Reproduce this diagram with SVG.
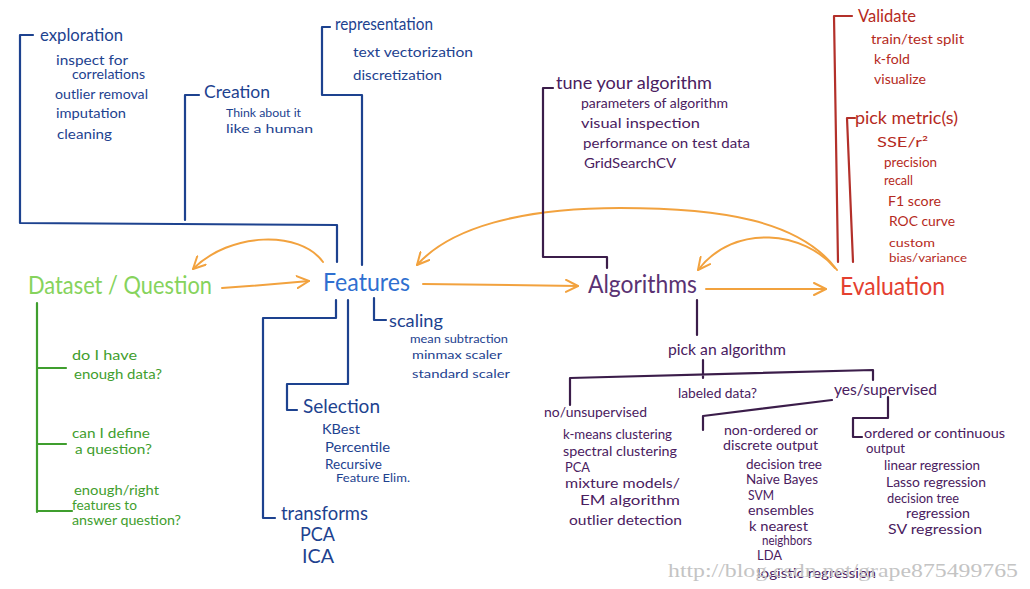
<svg xmlns="http://www.w3.org/2000/svg" width="1030" height="589" viewBox="0 0 1030 589">
<defs>
<marker id="ah" viewBox="0 0 14 14" refX="13" refY="7" markerWidth="14" markerHeight="14" markerUnits="userSpaceOnUse" orient="auto">
<path d="M1,1 L13,7 L1,13" fill="none" stroke="#f2a23e" stroke-width="2" stroke-linecap="round" stroke-linejoin="round"/>
</marker>
</defs>
<style>
text{font-family:"Lato","Noto Sans","Liberation Sans",sans-serif;}
.ln{fill:none;stroke-width:2.2;stroke-linecap:round;stroke-linejoin:round;}
.bl{stroke:#1d428f;}
.gr{stroke:#3f9e2e;}
.pu{stroke:#3b1d4a;}
.rd{stroke:#b3302a;}
.or{fill:none;stroke:#f2a23e;stroke-width:2;stroke-linecap:round;}
.tb{fill:#1d428f;}
.tg{fill:#3f9e2e;}
.tp{fill:#4a2060;}
.tr{fill:#b52a22;}
.big{font-size:25px;}
.h{font-size:17px;}
.s{font-size:13px;}
.xs{font-size:11px;}
</style>
<rect width="1030" height="589" fill="#ffffff"/>

<g id="connectors">
<path class="or" d="M222,288 Q265,285 309,281" marker-end="url(#ah)"/>
<path class="or" d="M423,284 L578,286" marker-end="url(#ah)"/>
<path class="or" d="M706,289 L826,289" marker-end="url(#ah)"/>
<path class="or" d="M323,262 C300,230 230,232 193,269" marker-end="url(#ah)"/>
<path class="or" d="M837,270 C800,220 720,208 620,208 C520,208 450,228 417,265" marker-end="url(#ah)"/>
<path class="or" d="M835,268 C805,232 735,222 698,270" marker-end="url(#ah)"/>
</g>

<g id="dataset">
<text x="28" y="294" class="big" fill="#86d35c" textLength="184" lengthAdjust="spacingAndGlyphs">Dataset / Question</text>
<path class="ln gr" d="M37,303 L37,512 M37,368 L66,368 M37,444 L66,444 M37,511 L72,511"/>
<text class="s tg" x="72" y="360" textLength="65" lengthAdjust="spacingAndGlyphs">do I have</text>
<text class="s tg" x="74" y="379" textLength="88" lengthAdjust="spacingAndGlyphs">enough data?</text>
<text class="s tg" x="72" y="438" textLength="78" lengthAdjust="spacingAndGlyphs">can I define</text>
<text class="s tg" x="75" y="454" textLength="77" lengthAdjust="spacingAndGlyphs">a question?</text>
<text class="s tg" x="74" y="495" textLength="85" lengthAdjust="spacingAndGlyphs">enough/right</text>
<text class="s tg" x="72" y="510" textLength="65" lengthAdjust="spacingAndGlyphs">features to</text>
<text class="s tg" x="72" y="525" textLength="109" lengthAdjust="spacingAndGlyphs">answer question?</text>
</g>

<g id="features">
<text x="323" y="291" class="big" fill="#2f6fd0" textLength="87" lengthAdjust="spacingAndGlyphs">Features</text>
<path class="ln bl" d="M33,35 L20,35 L20,223 L337,225 L337,262 M185,220 L185,95 L199,95 M330,27 L322,27 L322,95 L362,95 L362,265"/>
<text class="h tb" x="40" y="41" textLength="83" lengthAdjust="spacingAndGlyphs">exploration</text>
<text class="s tb" x="56" y="65" textLength="72" lengthAdjust="spacingAndGlyphs">inspect for</text>
<text class="s tb" x="72" y="79" textLength="73" lengthAdjust="spacingAndGlyphs">correlations</text>
<text class="s tb" x="55" y="99" textLength="93" lengthAdjust="spacingAndGlyphs">outlier removal</text>
<text class="s tb" x="56" y="118" textLength="70" lengthAdjust="spacingAndGlyphs">imputation</text>
<text class="s tb" x="57" y="139" textLength="55" lengthAdjust="spacingAndGlyphs">cleaning</text>
<text class="h tb" x="204" y="98" textLength="66" lengthAdjust="spacingAndGlyphs">Creation</text>
<text class="xs tb" x="226" y="117" textLength="75" lengthAdjust="spacingAndGlyphs">Think about it</text>
<text class="xs tb" x="226" y="133" textLength="87" lengthAdjust="spacingAndGlyphs">like a human</text>
<text class="h tb" x="335" y="30" textLength="98" lengthAdjust="spacingAndGlyphs">representation</text>
<text class="s tb" x="353" y="57" textLength="120" lengthAdjust="spacingAndGlyphs">text vectorization</text>
<text class="s tb" x="353" y="80" textLength="89" lengthAdjust="spacingAndGlyphs">discretization</text>
<path class="ln bl" d="M336,300 L336,318 L263,318 L263,518 L275,518 M348,300 L348,384 L287,384 L287,410 L297,410 M374,298 L374,320 L386,320"/>
<text class="h tb" x="389" y="327" textLength="54" lengthAdjust="spacingAndGlyphs">scaling</text>
<text class="xs tb" x="410" y="343" textLength="98" lengthAdjust="spacingAndGlyphs">mean subtraction</text>
<text class="xs tb" x="412" y="359" textLength="90" lengthAdjust="spacingAndGlyphs">minmax scaler</text>
<text class="xs tb" x="412" y="378" textLength="98" lengthAdjust="spacingAndGlyphs">standard scaler</text>
<text x="303" y="413" font-size="19" class="tb" textLength="77" lengthAdjust="spacingAndGlyphs">Selection</text>
<text class="s tb" x="322" y="434" textLength="38" lengthAdjust="spacingAndGlyphs">KBest</text>
<text class="s tb" x="325" y="452" textLength="65" lengthAdjust="spacingAndGlyphs">Percentile</text>
<text class="s tb" x="325" y="469" textLength="57" lengthAdjust="spacingAndGlyphs">Recursive</text>
<text class="xs tb" x="336" y="482" textLength="74" lengthAdjust="spacingAndGlyphs">Feature Elim.</text>
<text x="281" y="520" font-size="19" class="tb" textLength="87" lengthAdjust="spacingAndGlyphs">transforms</text>
<text x="300" y="541" font-size="19" class="tb" textLength="35" lengthAdjust="spacingAndGlyphs">PCA</text>
<text x="302" y="563" font-size="19" class="tb" textLength="32" lengthAdjust="spacingAndGlyphs">ICA</text>
</g>

<g id="algorithms">
<text x="588" y="293" class="big" fill="#5a3272" textLength="109" lengthAdjust="spacingAndGlyphs">Algorithms</text>
<path class="ln pu" d="M553,88 L543,88 L543,257 L607,257 L607,268"/>
<text class="h tp" x="556" y="89" textLength="156" lengthAdjust="spacingAndGlyphs">tune your algorithm</text>
<text class="s tp" x="581" y="108" textLength="147" lengthAdjust="spacingAndGlyphs">parameters of algorithm</text>
<text class="s tp" x="581" y="128" textLength="119" lengthAdjust="spacingAndGlyphs">visual inspection</text>
<text class="s tp" x="583" y="148" textLength="167" lengthAdjust="spacingAndGlyphs">performance on test data</text>
<text class="s tp" x="584" y="168" textLength="92" lengthAdjust="spacingAndGlyphs">GridSearchCV</text>
<path class="ln pu" d="M697,300 L697,335 M703,360 L703,378 M570,405 L570,378 L873,370 L873,380 M703,430 L703,416 L832,400 M888,397 L888,418 L853,418 L853,437 L862,437"/>
<text class="tp" x="668" y="355" font-size="15" textLength="118" lengthAdjust="spacingAndGlyphs">pick an algorithm</text>
<text class="s tp" x="678" y="398" textLength="79" lengthAdjust="spacingAndGlyphs">labeled data?</text>
<text class="tp" x="834" y="395" font-size="15" textLength="103" lengthAdjust="spacingAndGlyphs">yes/supervised</text>
<text class="s tp" x="544" y="417" textLength="103" lengthAdjust="spacingAndGlyphs">no/unsupervised</text>
<text class="s tp" x="563" y="439" textLength="109" lengthAdjust="spacingAndGlyphs">k-means clustering</text>
<text class="s tp" x="563" y="456" textLength="114" lengthAdjust="spacingAndGlyphs">spectral clustering</text>
<text class="s tp" x="565" y="472" textLength="25" lengthAdjust="spacingAndGlyphs">PCA</text>
<text class="s tp" x="565" y="488" textLength="115" lengthAdjust="spacingAndGlyphs">mixture models/</text>
<text class="s tp" x="580" y="505" textLength="100" lengthAdjust="spacingAndGlyphs">EM algorithm</text>
<text class="s tp" x="569" y="525" textLength="113" lengthAdjust="spacingAndGlyphs">outlier detection</text>
<text class="s tp" x="724" y="435" textLength="94" lengthAdjust="spacingAndGlyphs">non-ordered or</text>
<text class="s tp" x="723" y="450" textLength="95" lengthAdjust="spacingAndGlyphs">discrete output</text>
<text class="s tp" x="746" y="469" textLength="76" lengthAdjust="spacingAndGlyphs">decision tree</text>
<text class="s tp" x="746" y="484" textLength="72" lengthAdjust="spacingAndGlyphs">Naive Bayes</text>
<text class="s tp" x="748" y="500" textLength="26" lengthAdjust="spacingAndGlyphs">SVM</text>
<text class="s tp" x="748" y="515" textLength="66" lengthAdjust="spacingAndGlyphs">ensembles</text>
<text class="s tp" x="749" y="531" textLength="59" lengthAdjust="spacingAndGlyphs">k nearest</text>
<text class="s tp" x="762" y="545" textLength="50" lengthAdjust="spacingAndGlyphs">neighbors</text>
<text class="s tp" x="757" y="560" textLength="25" lengthAdjust="spacingAndGlyphs">LDA</text>
<text class="s tp" x="757" y="578" textLength="119" lengthAdjust="spacingAndGlyphs">logistic regression</text>
<text class="s tp" x="864" y="438" textLength="141" lengthAdjust="spacingAndGlyphs">ordered or continuous</text>
<text class="s tp" x="866" y="453" textLength="39" lengthAdjust="spacingAndGlyphs">output</text>
<text class="s tp" x="884" y="470" textLength="96" lengthAdjust="spacingAndGlyphs">linear regression</text>
<text class="s tp" x="886" y="487" textLength="100" lengthAdjust="spacingAndGlyphs">Lasso regression</text>
<text class="s tp" x="887" y="503" textLength="72" lengthAdjust="spacingAndGlyphs">decision tree</text>
<text class="s tp" x="906" y="518" textLength="64" lengthAdjust="spacingAndGlyphs">regression</text>
<text class="s tp" x="888" y="534" textLength="94" lengthAdjust="spacingAndGlyphs">SV regression</text>
</g>

<g id="evaluation">
<text x="840" y="295" class="big" fill="#e4402f" textLength="105" lengthAdjust="spacingAndGlyphs">Evaluation</text>
<path class="ln rd" d="M852,16 L834,16 L838,262 M855,118 L847,118 L853,262"/>
<text class="h tr" x="858" y="22" textLength="58" lengthAdjust="spacingAndGlyphs">Validate</text>
<text class="s tr" x="871" y="44" textLength="93" lengthAdjust="spacingAndGlyphs">train/test split</text>
<text class="s tr" x="874" y="64" textLength="36" lengthAdjust="spacingAndGlyphs">k-fold</text>
<text class="s tr" x="874" y="84" textLength="52" lengthAdjust="spacingAndGlyphs">visualize</text>
<text class="h tr" x="855" y="124" textLength="103" lengthAdjust="spacingAndGlyphs">pick metric(s)</text>
<text class="tr" x="877" y="147" font-size="14" textLength="51" lengthAdjust="spacingAndGlyphs">SSE/r²</text>
<text class="s tr" x="884" y="167" textLength="53" lengthAdjust="spacingAndGlyphs">precision</text>
<text class="s tr" x="884" y="185" textLength="29" lengthAdjust="spacingAndGlyphs">recall</text>
<text class="s tr" x="888" y="206" textLength="53" lengthAdjust="spacingAndGlyphs">F1 score</text>
<text class="s tr" x="889" y="226" textLength="66" lengthAdjust="spacingAndGlyphs">ROC curve</text>
<text class="xs tr" x="889" y="247" textLength="46" lengthAdjust="spacingAndGlyphs">custom</text>
<text class="xs tr" x="889" y="262" textLength="78" lengthAdjust="spacingAndGlyphs">bias/variance</text>
</g>

<text x="668" y="577" font-size="18" fill="#c4c4c4" textLength="350" lengthAdjust="spacingAndGlyphs" style="font-family:'Liberation Serif',serif">http://blog.csdn.net/grape875499765</text>
</svg>
